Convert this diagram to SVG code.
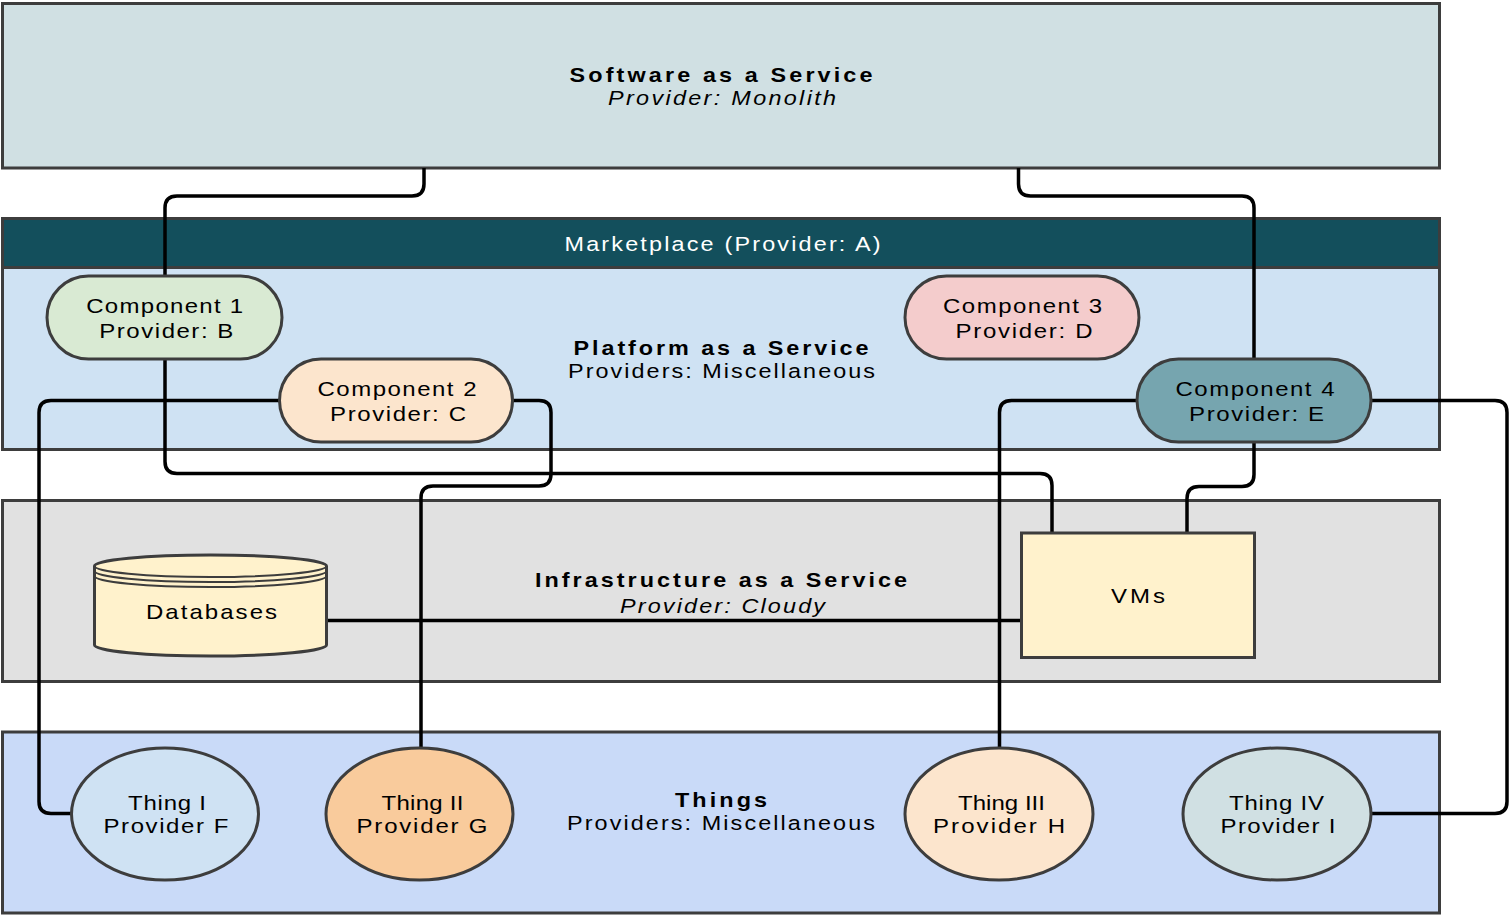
<svg xmlns="http://www.w3.org/2000/svg" width="1510" height="915" viewBox="0 0 1510 915">
<style>
text{font-family:"Liberation Sans",Arial,sans-serif;fill:#000;text-anchor:middle}
.t{font-size:19.5px;font-weight:bold}
.s{font-size:19.5px}
.i{font-size:19.5px;font-style:italic}
.n{font-size:20px}
.w{fill:#fff}
.lane{stroke:#3d3d3d;stroke-width:3}
.node{stroke:#3d3d3d;stroke-width:3}
.conn{fill:none;stroke:#000;stroke-width:3.5;stroke-linejoin:round}
</style>
<rect width="1510" height="915" fill="#fff"/>
<g id="saas">
<rect class="lane" x="2.5" y="3.5" width="1437" height="164.5" fill="#d0e0e3"/>
<text class="t" transform="translate(721 81.5) scale(1.2 1)" textLength="252.5" lengthAdjust="spacing">Software as a Service</text>
<text class="i" transform="translate(722 104.5) scale(1.2 1)" textLength="190" lengthAdjust="spacing">Provider: Monolith</text>
</g>
<g id="paas">
<rect class="lane" x="2.5" y="218.5" width="1437" height="231" fill="#cfe2f3"/>
<rect x="2.5" y="218.5" width="1437" height="49" fill="#134f5c" stroke="#3d3d3d" stroke-width="3"/>
<text class="s w" transform="translate(722.5 251) scale(1.2 1)" textLength="263.3" lengthAdjust="spacing">Marketplace (Provider: A)</text>
<text class="t" transform="translate(721 355) scale(1.2 1)" textLength="245.8" lengthAdjust="spacing">Platform as a Service</text>
<text class="s" transform="translate(721.5 378) scale(1.2 1)" textLength="255.8" lengthAdjust="spacing">Providers: Miscellaneous</text>
</g>
<g id="iaas">
<rect class="lane" x="2.5" y="500.5" width="1437" height="181" fill="#e1e1e1"/>
<text class="t" transform="translate(721 586.5) scale(1.2 1)" textLength="310" lengthAdjust="spacing">Infrastructure as a Service</text>
<text class="i" transform="translate(722.5 613) scale(1.2 1)" textLength="170.8" lengthAdjust="spacing">Provider: Cloudy</text>
</g>
<g id="things">
<rect class="lane" x="2.5" y="732" width="1437" height="181" fill="#c9daf8"/>
<text class="t" transform="translate(721 807) scale(1.2 1)" textLength="76.7" lengthAdjust="spacing">Things</text>
<text class="s" transform="translate(721 830) scale(1.2 1)" textLength="256.7" lengthAdjust="spacing">Providers: Miscellaneous</text>
</g>
<g id="connectors">
<path class="conn" d="M424,168 V184 Q424,196 412,196 H177 Q165,196 165,208 V276"/>
<path class="conn" d="M1018.5,168 V184 Q1018.5,196 1030.5,196 H1242 Q1254,196 1254,208 V359"/>
<path class="conn" d="M165,359 V461.5 Q165,473.5 177,473.5 H1040 Q1052,473.5 1052,485.5 V533"/>
<path class="conn" d="M279.5,400.5 H51 Q39,400.5 39,412.5 V801.5 Q39,813.5 51,813.5 H72"/>
<path class="conn" d="M512.5,400.5 H539 Q551,400.5 551,412.5 V474 Q551,486 539,486 H433 Q421,486 421,498 V748"/>
<path class="conn" d="M1137,400.5 H1011.5 Q999.5,400.5 999.5,412.5 V748"/>
<path class="conn" d="M1254,442 V474.5 Q1254,486.5 1242,486.5 H1199 Q1187,486.5 1187,498.5 V533"/>
<path class="conn" d="M1371,400.5 H1495 Q1507,400.5 1507,412.5 V801.5 Q1507,813.5 1495,813.5 H1370"/>
<path class="conn" d="M327,620.5 H1021.5"/>
</g>
<g id="component1">
<rect class="node" x="47" y="276" width="235" height="83" rx="41.5" fill="#d9ead3"/>
<text class="n" transform="translate(164.7 313) scale(1.2 1)" textLength="130.8" lengthAdjust="spacing">Component 1</text>
<text class="n" transform="translate(166.3 337.5) scale(1.2 1)" textLength="111.7" lengthAdjust="spacing">Provider: B</text>
</g>
<g id="component2">
<rect class="node" x="279.5" y="359" width="233" height="83" rx="41.5" fill="#fce5cd"/>
<text class="n" transform="translate(397 396) scale(1.2 1)" textLength="132.5" lengthAdjust="spacing">Component 2</text>
<text class="n" transform="translate(398 420.5) scale(1.2 1)" textLength="113.3" lengthAdjust="spacing">Provider: C</text>
</g>
<g id="component3">
<rect class="node" x="905" y="276" width="234" height="83" rx="41.5" fill="#f4cccc"/>
<text class="n" transform="translate(1022.5 313) scale(1.2 1)" textLength="132.5" lengthAdjust="spacing">Component 3</text>
<text class="n" transform="translate(1024 337.5) scale(1.2 1)" textLength="114.2" lengthAdjust="spacing">Provider: D</text>
</g>
<g id="component4">
<rect class="node" x="1137" y="359" width="234" height="83" rx="41.5" fill="#76a5af"/>
<text class="n" transform="translate(1255 396) scale(1.2 1)" textLength="132.5" lengthAdjust="spacing">Component 4</text>
<text class="n" transform="translate(1256.5 420.5) scale(1.2 1)" textLength="112.5" lengthAdjust="spacing">Provider: E</text>
</g>
<g id="databases">
<path class="node" d="M94.5,566 A116,11 0 0 1 326.5,566 V645 A116,11 0 0 1 94.5,645 Z" fill="#fff2cc"/>
<path d="M94.5,566 A116,11 0 0 0 326.5,566 M94.5,571 A116,11 0 0 0 326.5,571 M94.5,576 A116,11 0 0 0 326.5,576" fill="none" stroke="#3d3d3d" stroke-width="2"/>
<text class="n" transform="translate(211.5 619) scale(1.2 1)" textLength="109.2" lengthAdjust="spacing">Databases</text>
</g>
<g id="vms">
<rect class="node" x="1021.5" y="533" width="233" height="124.5" fill="#fff2cc"/>
<text class="n" transform="translate(1138 602.7) scale(1.2 1)" textLength="45" lengthAdjust="spacing">VMs</text>
</g>
<g id="thing1">
<ellipse class="node" cx="165" cy="814" rx="93.5" ry="66" fill="#cfe2f3"/>
<text class="n" transform="translate(167 810) scale(1.2 1)" textLength="65" lengthAdjust="spacing">Thing I</text>
<text class="n" transform="translate(166 833) scale(1.2 1)" textLength="104.2" lengthAdjust="spacing">Provider F</text>
</g>
<g id="thing2">
<ellipse class="node" cx="419.5" cy="814" rx="93.5" ry="66" fill="#f9cb9c"/>
<text class="n" transform="translate(422.5 810) scale(1.2 1)" textLength="68.3" lengthAdjust="spacing">Thing II</text>
<text class="n" transform="translate(422 833) scale(1.2 1)" textLength="109.2" lengthAdjust="spacing">Provider G</text>
</g>
<g id="thing3">
<ellipse class="node" cx="999" cy="814" rx="94" ry="66" fill="#fce5cd"/>
<text class="n" transform="translate(1001.5 810) scale(1.2 1)" textLength="72.5" lengthAdjust="spacing">Thing III</text>
<text class="n" transform="translate(999 833) scale(1.2 1)" textLength="110" lengthAdjust="spacing">Provider H</text>
</g>
<g id="thing4">
<ellipse class="node" cx="1277" cy="814" rx="94" ry="66" fill="#d0e0e3"/>
<text class="n" transform="translate(1276.5 810) scale(1.2 1)" textLength="79.2" lengthAdjust="spacing">Thing IV</text>
<text class="n" transform="translate(1278 833) scale(1.2 1)" textLength="95.8" lengthAdjust="spacing">Provider I</text>
</g>
</svg>
